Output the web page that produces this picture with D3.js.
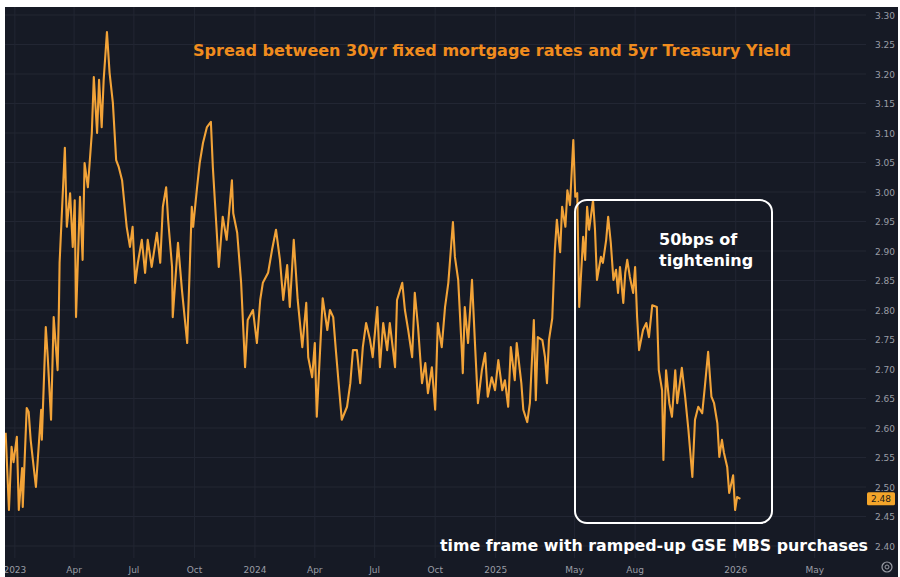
<!DOCTYPE html>
<html>
<head>
<meta charset="utf-8">
<script src="https://cdn.jsdelivr.net/npm/d3@7"></script>
<style>
    body { margin: 0; background: #ffffff; }
    svg { display: block; }
</style>
</head>
<body>
<div id="chart"></div>
<script>

// readings: days after 2023-01-01, and the spread in percentage points
const dayOffsets = [
    -14, -9, -5, -2, 3, 6, 11, 12, 18, 21,
    24, 32, 40, 41, 47, 50, 55, 59, 65, 67,
    68, 76, 79, 84, 88, 91, 93, 99, 103, 106,
    111, 117, 120, 125, 128, 132, 135, 140, 144, 149,
    154, 158, 163, 166, 170, 175, 179, 183, 187, 193,
    198, 202, 208, 216, 221, 225, 230, 233, 239, 240,
    248, 254, 262, 269, 271, 277, 281, 286, 292, 298,
    301, 307, 310, 316, 322, 330, 332, 338, 344, 350,
    354, 362, 368, 373, 377, 385, 391, 397, 403, 408,
    414, 418, 424, 430, 437, 443, 446, 452, 456, 459,
    468, 475, 479, 484, 488, 494, 497, 505, 510, 514,
    520, 525, 529, 534, 540, 544, 551, 555, 560, 566,
    570, 578, 581, 589, 593, 598, 604, 608, 613, 619,
    624, 628, 634, 639, 643, 649, 654, 659, 662, 666,
    669, 674, 680, 681, 684, 689, 695, 700, 704, 710,
    715, 719, 725, 730, 735, 741, 745, 750, 754, 760,
    763, 770, 773, 779, 783, 789, 792, 795, 802, 806,
    809, 812, 817, 821, 824, 829, 832, 837, 840, 844,
    849, 852, 855, 858, 864, 867, 870, 873, 879, 882,
    885, 891, 894, 899, 902, 906, 910, 914, 917, 920,
    925, 928, 931, 935, 940, 943, 946, 949, 955, 960,
    964, 969, 976, 979, 984, 986, 990, 995, 999, 1004,
    1007, 1014, 1019, 1024, 1030, 1034, 1039, 1045, 1049, 1054,
    1059, 1063, 1068, 1071, 1075, 1078, 1083, 1086, 1092, 1095,
    1098, 1103
];

const spread = [
    2.592, 2.461, 2.568, 2.542, 2.585, 2.461, 2.532, 2.466, 2.634, 2.627,
    2.580, 2.500, 2.631, 2.580, 2.771, 2.720, 2.614, 2.788, 2.698, 2.805,
    2.880, 3.075, 2.941, 2.998, 2.907, 2.986, 2.788, 2.992, 2.885, 3.049,
    3.008, 3.100, 3.195, 3.100, 3.190, 3.110, 3.190, 3.271, 3.202, 3.151,
    3.054, 3.042, 3.020, 2.986, 2.941, 2.907, 2.941, 2.846, 2.880, 2.919,
    2.863, 2.919, 2.873, 2.931, 2.880, 2.975, 3.008, 2.953, 2.873, 2.788,
    2.914, 2.834, 2.744, 2.975, 2.941, 3.008, 3.049, 3.083, 3.110, 3.119,
    3.042, 2.931, 2.873, 2.958, 2.919, 3.020, 2.964, 2.931, 2.846, 2.703,
    2.783, 2.800, 2.744, 2.817, 2.846, 2.863, 2.902, 2.936, 2.885, 2.817,
    2.876, 2.805, 2.919, 2.817, 2.737, 2.812, 2.720, 2.686, 2.744, 2.619,
    2.820, 2.766, 2.800, 2.788, 2.732, 2.653, 2.614, 2.636, 2.676, 2.732,
    2.732, 2.676, 2.737, 2.778, 2.749, 2.720, 2.805, 2.703, 2.778, 2.732,
    2.778, 2.703, 2.817, 2.846, 2.800, 2.766, 2.720, 2.829, 2.771, 2.676,
    2.710, 2.659, 2.703, 2.631, 2.778, 2.737, 2.805, 2.846, 2.890, 2.949,
    2.890, 2.851, 2.720, 2.693, 2.805, 2.744, 2.851, 2.732, 2.642, 2.698,
    2.727, 2.653, 2.686, 2.664, 2.715, 2.664, 2.681, 2.636, 2.737, 2.681,
    2.744, 2.676, 2.631, 2.610, 2.642, 2.783, 2.647, 2.754, 2.749, 2.720,
    2.676, 2.749, 2.786, 2.902, 2.953, 2.898, 2.975, 2.941, 3.003, 2.978,
    3.088, 2.992, 2.998, 2.805, 2.924, 2.885, 2.975, 2.936, 2.986, 2.936,
    2.851, 2.890, 2.880, 2.919, 2.958, 2.914, 2.851, 2.868, 2.829, 2.873,
    2.812, 2.863, 2.885, 2.856, 2.829, 2.873, 2.788, 2.732, 2.766, 2.778,
    2.754, 2.808, 2.805, 2.698, 2.664, 2.546, 2.698, 2.642, 2.619, 2.698,
    2.642, 2.702, 2.653, 2.597, 2.517, 2.614, 2.636, 2.625, 2.670, 2.729,
    2.653, 2.642, 2.608, 2.551, 2.580, 2.558, 2.534, 2.490, 2.520, 2.461,
    2.483, 2.480
];

const lastValue = 2.48;

const xTickDates = ["2023-01-01", "2023-04-01", "2023-07-01", "2023-10-01",
    "2024-01-01", "2024-04-01", "2024-07-01", "2024-10-01",
    "2025-01-01", "2025-05-01", "2025-08-01", "2026-01-01", "2026-05-01"];

const yTicks = [2.40, 2.45, 2.50, 2.55, 2.60, 2.65, 2.70, 2.75, 2.80, 2.85,
    2.90, 2.95, 3.00, 3.05, 3.10, 3.15, 3.20, 3.25, 3.30];

const titleText = "Spread between 30yr fixed mortgage rates and 5yr Treasury Yield";
const boxLines = ["50bps of", "tightening"];
const footText = "time frame with ramped-up GSE MBS purchases";


class SpreadChart {

    constructor(parentElement, data) {
        this.parentElement = parentElement;
        this.data = data;
        this.initVis();
    }

    initVis() {
        let vis = this;

        vis.width = 900;
        vis.height = 577;
        // plot area inside the dark panel, price scale sits on the right
        vis.plot = {left: 5, right: 866, top: 7, bottom: 558};

        vis.svg = d3.select("#" + vis.parentElement).append("svg")
            .attr("width", vis.width)
            .attr("height", vis.height);

        vis.svg.append("clipPath").attr("id", "panel-clip")
            .append("rect")
            .attr("x", 5).attr("y", 7)
            .attr("width", 893).attr("height", 570);

        vis.svg.append("clipPath").attr("id", "plot-clip")
            .append("rect")
            .attr("x", vis.plot.left).attr("y", vis.plot.top)
            .attr("width", vis.plot.right - vis.plot.left)
            .attr("height", vis.plot.bottom - vis.plot.top);

        vis.panel = vis.svg.append("g").attr("clip-path", "url(#panel-clip)");

        vis.panel.append("rect")
            .attr("x", 5).attr("y", 7)
            .attr("width", 893).attr("height", 570)
            .attr("fill", "#161a25");

        vis.xScale = d3.scaleUtc()
            .domain([new Date(Date.UTC(2022, 11, 17)), new Date(Date.UTC(2026, 6, 18))])
            .range([vis.plot.left, vis.plot.right]);

        vis.yScale = d3.scaleLinear()
            .domain([2.40, 3.30])
            .range([546, 15]);

        vis.wrangleData();
    }

    wrangleData() {
        let vis = this;

        let start = Date.UTC(2023, 0, 1);
        vis.series = vis.data.offsets.map((d, i) => ({
            date: new Date(start + d * 86400000),
            value: vis.data.values[i]
        }));
        vis.xTicks = xTickDates.map(s => new Date(s + "T00:00:00Z"));

        vis.updateVis();
    }

    // shrink the font until the text spans the wanted width
    fitText(sel, width, size) {
        sel.attr("font-size", size + "px");
        let w = sel.node().getComputedTextLength();
        sel.attr("font-size", (size * width / w).toFixed(2) + "px");
    }

    updateVis() {
        let vis = this;

        // grid
        vis.panel.append("g").attr("class", "grid-y")
            .selectAll("line")
            .data(yTicks)
            .join("line")
            .attr("x1", vis.plot.left).attr("x2", vis.plot.right)
            .attr("y1", d => vis.yScale(d)).attr("y2", d => vis.yScale(d))
            .attr("stroke", "#222633").attr("stroke-width", 1);

        vis.panel.append("g").attr("class", "grid-x")
            .selectAll("line")
            .data(vis.xTicks)
            .join("line")
            .attr("x1", d => vis.xScale(d)).attr("x2", d => vis.xScale(d))
            .attr("y1", vis.plot.top).attr("y2", vis.plot.bottom)
            .attr("stroke", "#222633").attr("stroke-width", 1);

        // price scale labels
        vis.panel.append("g").attr("class", "y-labels")
            .selectAll("text")
            .data(yTicks)
            .join("text")
            .attr("x", 885)
            .attr("y", d => vis.yScale(d) + 3.5)
            .attr("text-anchor", "middle")
            .attr("font-family", "DejaVu Sans, sans-serif")
            .attr("font-size", "9px")
            .attr("fill", "#9a9da6")
            .text(d => d3.format(".2f")(d));

        // time scale labels
        vis.panel.append("g").attr("class", "x-labels")
            .selectAll("text")
            .data(vis.xTicks)
            .join("text")
            .attr("x", d => vis.xScale(d))
            .attr("y", 573)
            .attr("text-anchor", "middle")
            .attr("font-family", "DejaVu Sans, sans-serif")
            .attr("font-size", "9px")
            .attr("fill", "#9a9da6")
            .text(d => d.getUTCMonth() === 0 ? d3.utcFormat("%Y")(d) : d3.utcFormat("%b")(d));

        // the spread line
        let line = d3.line()
            .x(d => vis.xScale(d.date))
            .y(d => vis.yScale(d.value));

        vis.panel.append("path")
            .datum(vis.series)
            .attr("clip-path", "url(#plot-clip)")
            .attr("d", line)
            .attr("fill", "none")
            .attr("stroke", "#f2a338")
            .attr("stroke-width", 2.1)
            .attr("stroke-linejoin", "round");

        // last value badge
        let yLast = vis.yScale(lastValue);
        vis.panel.append("rect")
            .attr("x", 867).attr("y", yLast - 6.5)
            .attr("width", 28).attr("height", 13)
            .attr("rx", 1.5)
            .attr("fill", "#f4a52a");
        vis.panel.append("text")
            .attr("x", 881).attr("y", yLast + 3.5)
            .attr("text-anchor", "middle")
            .attr("font-family", "DejaVu Sans, sans-serif")
            .attr("font-size", "9px")
            .attr("fill", "#1b1b1b")
            .text(d3.format(".2f")(lastValue));

        // settings gear
        vis.panel.append("circle")
            .attr("cx", 887).attr("cy", 567).attr("r", 5)
            .attr("fill", "none").attr("stroke", "#9a9da6").attr("stroke-width", 1.2);
        vis.panel.append("circle")
            .attr("cx", 887).attr("cy", 567).attr("r", 2)
            .attr("fill", "none").attr("stroke", "#9a9da6").attr("stroke-width", 1);

        // title
        let title = vis.panel.append("text")
            .attr("x", 193).attr("y", 56)
            .attr("font-family", "DejaVu Sans, sans-serif")
            .attr("font-weight", "bold")
            .attr("fill", "#f08c1e")
            .text(titleText);
        vis.fitText(title, 598, 15);

        // annotation box
        vis.panel.append("rect")
            .attr("x", 575).attr("y", 200)
            .attr("width", 197).attr("height", 323)
            .attr("rx", 12)
            .attr("fill", "none")
            .attr("stroke", "#ffffff")
            .attr("stroke-width", 2);

        vis.panel.append("g").selectAll("text")
            .data(boxLines)
            .join("text")
            .attr("x", 659)
            .attr("y", (d, i) => 245 + i * 21)
            .attr("font-family", "DejaVu Sans, sans-serif")
            .attr("font-weight", "bold")
            .attr("font-size", "16px")
            .attr("fill", "#ffffff")
            .text(d => d);

        let foot = vis.panel.append("text")
            .attr("x", 440).attr("y", 551)
            .attr("font-family", "DejaVu Sans, sans-serif")
            .attr("font-weight", "bold")
            .attr("fill", "#ffffff")
            .text(footText);
        vis.fitText(foot, 428, 17);
    }
}

new SpreadChart("chart", {offsets: dayOffsets, values: spread});

</script>
</body>
</html>
